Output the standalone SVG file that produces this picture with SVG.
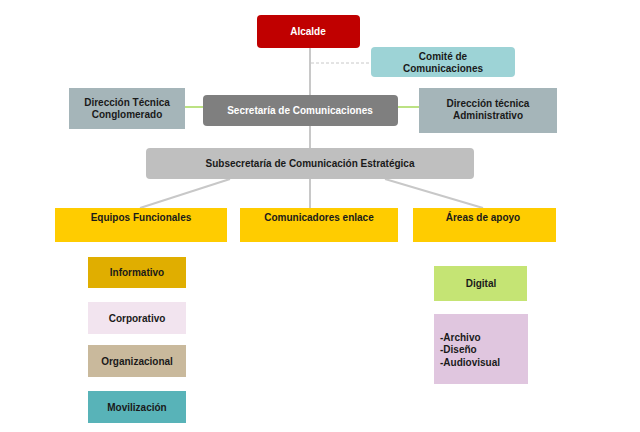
<svg xmlns="http://www.w3.org/2000/svg" width="640" height="432" viewBox="0 0 640 432">
<style>
text{font-family:"Liberation Sans",Arial,sans-serif;font-size:10px;font-weight:bold;fill:#1a1a1a;text-anchor:middle}
.w{fill:#fff}
.c{stroke:#c8c8c8;stroke-width:2;fill:none}
.g{stroke:#a6d85a;stroke-width:1.5}
</style>
<rect width="640" height="432" fill="#fff"/>
<g id="connectors">
<line class="c" x1="310" y1="48" x2="310" y2="148"/>
<line x1="311" y1="63" x2="371" y2="63" stroke="#c8c8c8" stroke-dasharray="3,2"/>
<line class="g" x1="185" y1="107" x2="203" y2="107"/>
<line class="g" x1="398" y1="107" x2="419" y2="107"/>
<line class="c" x1="310" y1="179" x2="310" y2="208"/>
<line class="c" x1="230" y1="179" x2="140" y2="208"/>
<line class="c" x1="385" y1="179" x2="483" y2="208"/>
</g>
<g id="alcalde"><rect x="257" y="15" width="103" height="33" rx="4" fill="#c00000"/><text class="w" x="308" y="35">Alcalde</text></g>
<g id="comite"><rect x="371" y="47" width="144" height="30" rx="4" fill="#9dd3d6"/><text x="443" y="60">Comité de</text><text x="443" y="72">Comunicaciones</text></g>
<g id="dtc"><rect x="69" y="88" width="116" height="41" fill="#a5b5b9"/><text x="127" y="106">Dirección Técnica</text><text x="127" y="118">Conglomerado</text></g>
<g id="secretaria"><rect x="203" y="95" width="195" height="31" rx="4" fill="#7f7f7f"/><text class="w" x="300" y="114">Secretaría de Comunicaciones</text></g>
<g id="dta"><rect x="419" y="88" width="138" height="45" fill="#a5b5b9"/><text x="488" y="107">Dirección técnica</text><text x="488" y="119">Administrativo</text></g>
<g id="subsecretaria"><rect x="146" y="148" width="328" height="31" rx="4" fill="#bfbfbf"/><text x="310" y="167">Subsecretaría de Comunicación Estratégica</text></g>
<g id="equipos"><rect x="55" y="208" width="172" height="34" fill="#ffcc00"/><text x="141" y="221">Equipos Funcionales</text></g>
<g id="comunicadores"><rect x="240" y="208" width="158" height="34" fill="#ffcc00"/><text x="319" y="221">Comunicadores enlace</text></g>
<g id="areas"><rect x="413" y="208" width="143" height="34" fill="#ffcc00"/><text x="483" y="221">Áreas de apoyo</text></g>
<g id="informativo"><rect x="88" y="257" width="98" height="31" fill="#e0ae00"/><text x="137" y="276">Informativo</text></g>
<g id="corporativo"><rect x="88" y="302" width="98" height="32" fill="#f2e4ef"/><text x="137" y="322">Corporativo</text></g>
<g id="organizacional"><rect x="88" y="345" width="98" height="32" fill="#c9b99c"/><text x="137" y="365">Organizacional</text></g>
<g id="movilizacion"><rect x="88" y="391" width="98" height="32" fill="#58b3b8"/><text x="137" y="411">Movilización</text></g>
<g id="digital"><rect x="434" y="266" width="93" height="35" fill="#c5e474"/><text x="481" y="287">Digital</text></g>
<g id="apoyo"><rect x="434" y="314" width="94" height="70" fill="#e0c6df"/><text x="440" y="341" style="text-anchor:start">-Archivo</text><text x="440" y="353" style="text-anchor:start">-Diseño</text><text x="440" y="366" style="text-anchor:start">-Audiovisual</text></g>
</svg>
